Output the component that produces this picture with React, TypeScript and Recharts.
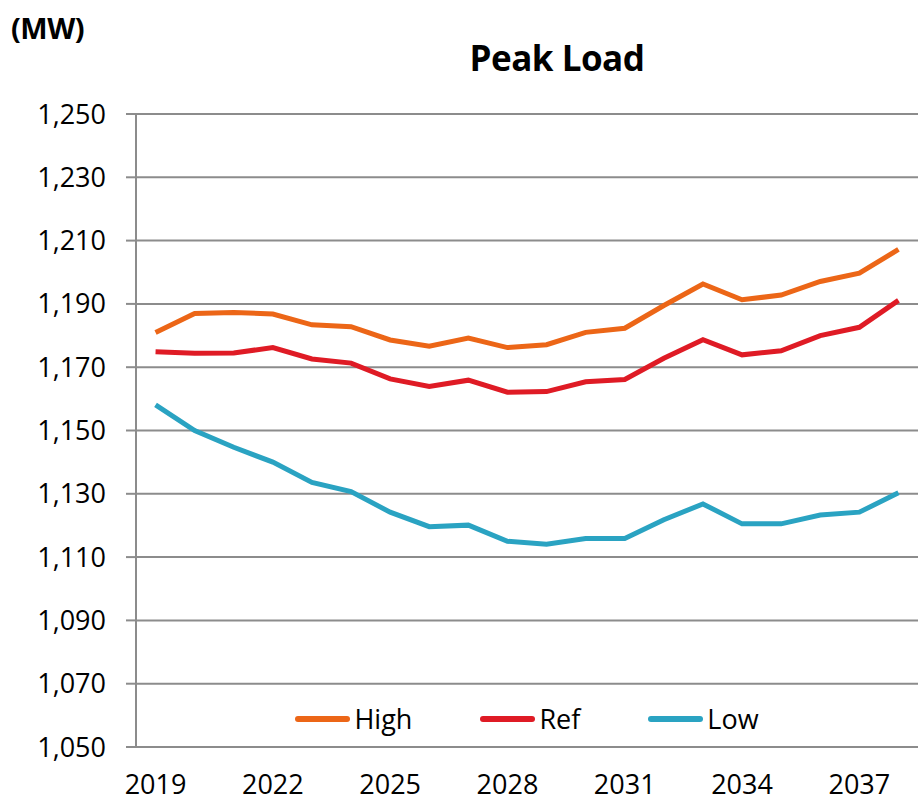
import { LineChart, Line, XAxis, YAxis, CartesianGrid } from 'recharts';

const years = [
  2019, 2020, 2021, 2022, 2023, 2024, 2025, 2026, 2027, 2028,
  2029, 2030, 2031, 2032, 2033, 2034, 2035, 2036, 2037, 2038,
];
const high = [
  1181, 1187, 1187.3, 1186.8, 1183.4, 1182.8, 1178.6, 1176.6, 1179.2, 1176.2,
  1177.1, 1181, 1182.3, 1189.5, 1196.3, 1191.3, 1192.8, 1197.1, 1199.7, 1207.2,
];
const ref = [
  1174.9, 1174.4, 1174.5, 1176.2, 1172.6, 1171.3, 1166.3, 1163.9, 1165.9, 1162.1,
  1162.3, 1165.4, 1166.1, 1172.8, 1178.7, 1173.9, 1175.2, 1180, 1182.6, 1191.1,
];
const low = [
  1158.1, 1150, 1144.7, 1140, 1133.6, 1130.7, 1124.2, 1119.6, 1120.1, 1115,
  1114.1, 1115.9, 1115.9, 1121.8, 1126.8, 1120.5, 1120.5, 1123.3, 1124.2, 1130.3,
];
const yTicks = [1050, 1070, 1090, 1110, 1130, 1150, 1170, 1190, 1210, 1230, 1250];
const yearLabels = [2019, 2022, 2025, 2028, 2031, 2034, 2037];
// category borders get the small tick marks, labels sit mid-band
const bandEdges = [...years.map(y => y - 0.5), years[years.length - 1] + 0.5];

const series = [
  { key: 'high', name: 'High', color: '#ec6617' },
  { key: 'ref', name: 'Ref', color: '#df1b25' },
  { key: 'low', name: 'Low', color: '#2aa3c2' },
];

const data = years.map((year, i) => ({ year, high: high[i], ref: ref[i], low: low[i] }));

const FONT = '"Open Sans", sans-serif';
const AXIS = '#8c8c8c';

export default function App() {
  return (
    <div style={{ position: 'absolute', left: 0, top: 0, width: 923, height: 801, background: '#fff' }}>
      <div style={{ position: 'absolute', left: 11, top: 8, fontFamily: FONT, fontWeight: 700, fontSize: 29, letterSpacing: -0.5 }}>
        (MW)
      </div>
      <div style={{ position: 'absolute', left: 0, width: 1114, top: 34, textAlign: 'center', fontFamily: FONT, fontWeight: 700, fontSize: 35, letterSpacing: -0.5 }}>
        Peak Load
      </div>
      <LineChart width={923} height={801} data={data} margin={{ top: 114, right: 5, left: 0, bottom: 0 }}>
        <CartesianGrid vertical={false} stroke={AXIS} strokeWidth={2} xAxisId="edges" />
        <XAxis
          xAxisId="edges"
          dataKey="year"
          type="number"
          domain={[2018.5, 2038.5]}
          ticks={bandEdges}
          interval={0}
          height={0}
          tick={() => <g />}
          tickSize={9}
          axisLine={{ stroke: AXIS, strokeWidth: 2 }}
          tickLine={{ stroke: AXIS, strokeWidth: 2 }}
        />
        <XAxis
          xAxisId="labels"
          dataKey="year"
          type="number"
          domain={[2018.5, 2038.5]}
          ticks={yearLabels}
          interval={0}
          height={54}
          axisLine={false}
          tickLine={false}
          tickSize={0}
          tickMargin={28}
          tick={{ fill: '#000', fontSize: 27, fontFamily: FONT }}
        />
        <YAxis
          domain={[1050, 1250]}
          ticks={yTicks}
          interval={0}
          width={136}
          tickSize={10}
          tickMargin={20}
          tickFormatter={(v: number) => v.toLocaleString('en-US')}
          axisLine={{ stroke: AXIS, strokeWidth: 2 }}
          tickLine={{ stroke: AXIS, strokeWidth: 2 }}
          tick={{ fill: '#000', fontSize: 27, fontFamily: FONT }}
        />
        {series.map(s => (
          <Line
            key={s.key}
            xAxisId="edges"
            dataKey={s.key}
            name={s.name}
            stroke={s.color}
            strokeWidth={5}
            dot={false}
            isAnimationActive={false}
          />
        ))}
      </LineChart>
      <div
        style={{
          position: 'absolute', left: 136, width: 782, top: 700,
          display: 'flex', justifyContent: 'center', gap: 68,
          fontFamily: FONT, fontSize: 27,
        }}
      >
        {series.map(s => (
          <div key={s.key} style={{ display: 'flex', alignItems: 'center', gap: 4 }}>
            <span style={{ width: 55, height: 6, borderRadius: 3, background: s.color, display: 'inline-block' }} />
            <span>{s.name}</span>
          </div>
        ))}
      </div>
    </div>
  );
}
